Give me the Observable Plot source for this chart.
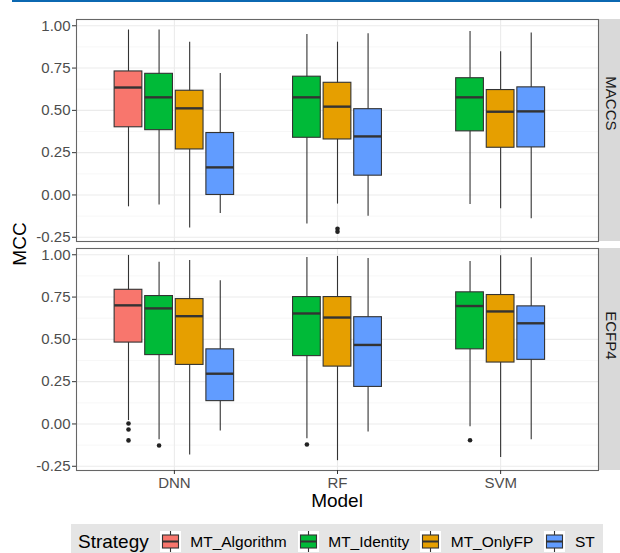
<!DOCTYPE html>
<html>
<head>
<meta charset="utf-8">
<script src="https://cdn.jsdelivr.net/npm/d3@7"></script>
<script src="https://cdn.jsdelivr.net/npm/@observablehq/plot@0.6"></script>
<style>
  html, body { margin: 0; padding: 0; background: #fff; }
  #wrap { position: relative; width: 620px; height: 553px; overflow: hidden; font-family: "Liberation Sans", Arial, sans-serif; }
  #topline { position: absolute; left: 12px; top: 0; width: 608px; height: 2px; background: #0b68b1; }
  .title { position: absolute; color: #000; white-space: nowrap; }
  #ylab { left: 20px; top: 244px; font-size: 19px; transform: translate(-50%, -50%) rotate(-90deg); }
  #xlab { left: 337px; top: 501px; font-size: 19px; transform: translate(-50%, -50%); }
  #legend { position: absolute; left: 71px; top: 524px; width: 532px; height: 35px; background: #E5E5E5; display: flex; align-items: flex-start; }
  #legend .ltitle { font-size: 19px; margin-left: 7px; margin-top: 7px; color: #000; }
  #legend .key { margin-left: 11px; margin-top: 7px; width: 21px; height: 21px; background: #fff; }
  #legend .lab { font-size: 15.5px; margin-left: 9.5px; margin-top: 9px; color: #000; }
</style>
</head>
<body>
<div id="wrap">
  <div id="chart"></div>
  <div id="topline"></div>
  <div class="title" id="ylab">MCC</div>
  <div class="title" id="xlab">Model</div>
  <div id="legend"></div>
</div>
<script>
// ---- data ----
const models = ["DNN", "RF", "SVM"];
const strategies = ["MT_Algorithm", "MT_Identity", "MT_OnlyFP", "ST"];
const fingerprints = ["MACCS", "ECFP4"];
const strategyColors = ["#F8766D", "#00BA38", "#E69F00", "#619CFF"];
const yTicks = [-0.25, 0, 0.25, 0.5, 0.75, 1];
const yMinorTicks = [-0.125, 0.125, 0.375, 0.625, 0.875];

const groupFingerprint = ["MACCS","MACCS","MACCS","MACCS","MACCS","MACCS","MACCS","MACCS","MACCS","MACCS",
                          "ECFP4","ECFP4","ECFP4","ECFP4","ECFP4","ECFP4","ECFP4","ECFP4","ECFP4","ECFP4"];
const groupModel = ["DNN","DNN","DNN","DNN","RF","RF","RF","SVM","SVM","SVM",
                    "DNN","DNN","DNN","DNN","RF","RF","RF","SVM","SVM","SVM"];
const groupStrategy = ["MT_Algorithm","MT_Identity","MT_OnlyFP","ST","MT_Identity","MT_OnlyFP","ST","MT_Identity","MT_OnlyFP","ST",
                       "MT_Algorithm","MT_Identity","MT_OnlyFP","ST","MT_Identity","MT_OnlyFP","ST","MT_Identity","MT_OnlyFP","ST"];
const whiskerLow    = [-0.070, -0.060, -0.195, -0.109, -0.172, -0.054, -0.126, -0.057, -0.081, -0.140,
                        0.020, -0.093, -0.183, -0.042, -0.087, -0.217, -0.047, -0.017, -0.198, -0.093];
const lowerQuartile = [ 0.400,  0.383,  0.269,  0.000,  0.338,  0.328,  0.114,  0.376,  0.279,  0.281,
                        0.481,  0.407,  0.349,  0.135,  0.401,  0.339,  0.219,  0.441,  0.363,  0.379];
const medianValue   = [ 0.635,  0.577,  0.512,  0.163,  0.577,  0.522,  0.346,  0.577,  0.492,  0.494,
                        0.701,  0.683,  0.637,  0.297,  0.653,  0.629,  0.467,  0.697,  0.665,  0.595];
const upperQuartile = [ 0.730,  0.716,  0.616,  0.366,  0.699,  0.663,  0.507,  0.690,  0.620,  0.636,
                        0.793,  0.756,  0.738,  0.441,  0.750,  0.750,  0.631,  0.778,  0.762,  0.695];
const whiskerHigh   = [ 0.975,  0.975,  0.903,  0.718,  0.949,  0.903,  0.953,  0.966,  0.846,  0.957,
                        0.996,  0.956,  0.966,  0.847,  0.984,  0.990,  0.978,  0.960,  0.994,  0.982];

const outlierFingerprint = ["MACCS","MACCS","ECFP4","ECFP4","ECFP4","ECFP4","ECFP4","ECFP4"];
const outlierModel       = ["RF","RF","DNN","DNN","DNN","DNN","RF","SVM"];
const outlierStrategy    = ["MT_OnlyFP","MT_OnlyFP","MT_Algorithm","MT_Algorithm","MT_Algorithm","MT_Identity","MT_Identity","MT_Identity"];
const outlierValue       = [-0.200, -0.217, 0.003, -0.033, -0.097, -0.127, -0.121, -0.096];

// ---- build tables ----
const boxes = groupFingerprint.map((fp, i) => ({
  fp, model: groupModel[i], strategy: groupStrategy[i],
  low: whiskerLow[i], q1: lowerQuartile[i], med: medianValue[i], q3: upperQuartile[i], high: whiskerHigh[i]
}));
const dodgeStep = 0.1875, halfBox = 0.085;
function xCenter(fp, model, strategy) {
  const present = boxes.filter(b => b.fp === fp && b.model === model).map(b => b.strategy);
  const n = present.length, k = present.indexOf(strategy);
  return models.indexOf(model) + 1 + (k - (n - 1) / 2) * dodgeStep;
}
boxes.forEach(b => { b.x = xCenter(b.fp, b.model, b.strategy); });
const outliers = outlierValue.map((v, i) => ({
  fp: outlierFingerprint[i], value: v,
  x: xCenter(outlierFingerprint[i], outlierModel[i], outlierStrategy[i])
}));

const xDomain = [0.4, models.length + 0.6];
const yDomain = [-0.275, 1.037];

// strip backgrounds (drawn in each facet, to the right of the panel)
function stripMark(index, scales, values, dimensions) {
  const x0 = scales.x(xDomain[1]);
  const yTop = scales.y(yDomain[1]);
  const yBot = scales.y(yDomain[0]);
  const r = document.createElementNS("http://www.w3.org/2000/svg", "rect");
  r.setAttribute("x", x0 + 0.5);
  r.setAttribute("y", yTop);
  r.setAttribute("width", dimensions.width - x0);
  r.setAttribute("height", yBot - yTop);
  r.setAttribute("fill", "#D9D9D9");
  const g = document.createElementNS("http://www.w3.org/2000/svg", "g");
  g.appendChild(r);
  return g;
}

const chart = Plot.plot({
  width: 620,
  height: 524,
  marginLeft: 76,
  marginRight: 22,
  marginTop: 18,
  marginBottom: 54,
  style: { fontFamily: "'Liberation Sans', Arial, sans-serif", background: "#fff" },
  x: { domain: xDomain, axis: null },
  y: { domain: yDomain, axis: null },
  fy: { domain: fingerprints, paddingInner: 0.031, paddingOuter: 0, axis: null },
  color: { domain: strategies, range: strategyColors },
  marks: [
    Plot.ruleY(yMinorTicks, { stroke: "#F2F2F2", strokeWidth: 0.6 }),
    Plot.ruleY(yTicks, { stroke: "#EBEBEB", strokeWidth: 1.1 }),
    Plot.ruleX([1, 2, 3], { stroke: "#EBEBEB", strokeWidth: 1.1 }),
    Plot.ruleX(boxes, { x: "x", y1: "low", y2: "high", fy: "fp", stroke: "#333", strokeWidth: 1.1 }),
    Plot.rect(boxes, { x1: d => d.x - halfBox, x2: d => d.x + halfBox, y1: "q1", y2: "q3", fy: "fp",
                       fill: "strategy", stroke: "#333", strokeWidth: 1.1 }),
    Plot.ruleY(boxes, { x1: d => d.x - halfBox, x2: d => d.x + halfBox, y: "med", fy: "fp",
                        stroke: "#333", strokeWidth: 2.4 }),
    Plot.dot(outliers, { x: "x", y: "value", fy: "fp", r: 2.3, fill: "#222", stroke: "none" }),
    stripMark,
    Plot.frame({ stroke: "#666", strokeWidth: 1.1 }),
    Plot.text(fingerprints, { fy: d => d, text: d => d, frameAnchor: "right", dx: 12, rotate: 90,
                              fontSize: 15, fill: "#1A1A1A" }),
    Plot.axisY({ ticks: yTicks, tickFormat: d => d.toFixed(2), tickSize: 4, tickPadding: 2,
                 fontSize: 15, fill: "#4D4D4D", stroke: "#333", label: null }),
    Plot.axisX({ ticks: [1, 2, 3], tickFormat: d => models[d - 1], tickSize: 4, tickPadding: 3,
                 fontSize: 15, fill: "#4D4D4D", stroke: "#333", label: null })
  ]
});
document.getElementById("chart").appendChild(chart);

// ---- legend ----
const legend = document.getElementById("legend");
const t = document.createElement("div");
t.className = "ltitle"; t.textContent = "Strategy";
legend.appendChild(t);
strategies.forEach((s, i) => {
  const key = document.createElement("div");
  key.className = "key";
  key.innerHTML =
    `<svg width="21" height="21" style="display:block">
       <line x1="10.5" x2="10.5" y1="0" y2="21" stroke="#333" stroke-width="1.1"/>
       <rect x="2.5" y="4" width="16" height="13" fill="${strategyColors[i]}" stroke="#333" stroke-width="1.1"/>
       <line x1="2.5" x2="18.5" y1="10.5" y2="10.5" stroke="#333" stroke-width="2"/>
     </svg>`;
  legend.appendChild(key);
  const lab = document.createElement("div");
  lab.className = "lab"; lab.textContent = s;
  legend.appendChild(lab);
});
</script>
</body>
</html>
